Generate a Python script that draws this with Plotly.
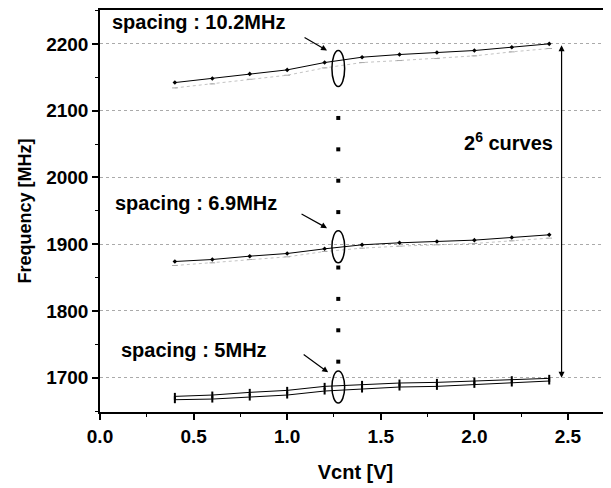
import plotly.graph_objects as go

vcnt = [0.4, 0.6, 0.8, 1.0, 1.2, 1.4, 1.6, 1.8, 2.0, 2.2, 2.4]
f_top = [2142, 2148, 2155, 2161, 2172, 2180, 2184, 2187, 2190, 2195, 2200]
f_top_b = [2134, 2140, 2147, 2153, 2164, 2172, 2175, 2178, 2182, 2188, 2193]
f_mid = [1874, 1877, 1882, 1886, 1893, 1899, 1902, 1904, 1906, 1910, 1914]
f_mid_b = [1868, 1872, 1877, 1881, 1889, 1894, 1897, 1899, 1901, 1905, 1909]
f_low = [1672, 1674, 1678, 1681, 1687, 1690, 1692, 1693, 1695, 1697, 1699]
f_low_b = [1667, 1668, 1671, 1674, 1680, 1683, 1686, 1687, 1690, 1692, 1695]
dots_x = 1.273
dots_y = [2089, 2042, 1995, 1948, 1865, 1818, 1771, 1724]

FONT = "Liberation Sans, Arial, sans-serif"

fig = go.Figure()

def add_main(y):
    fig.add_trace(go.Scatter(x=vcnt, y=y, mode="lines+markers",
                             line=dict(color="black", width=1),
                             marker=dict(symbol="diamond", size=3.5, color="black"),
                             showlegend=False))

def add_faint(y):
    fig.add_trace(go.Scatter(x=vcnt, y=y, mode="lines+markers",
                             line=dict(color="#c4c4c4", width=1, dash="dot"),
                             marker=dict(symbol="line-ew-open", size=4, color="#aaaaaa",
                                         line=dict(width=1, color="#aaaaaa")),
                             showlegend=False))

add_faint(f_top_b)
add_main(f_top)
add_faint(f_mid_b)
add_main(f_mid)
for yy in (f_low_b, f_low):
    fig.add_trace(go.Scatter(x=vcnt, y=yy, mode="lines+markers",
                             line=dict(color="black", width=1),
                             marker=dict(symbol="line-ns-open", size=5, color="black",
                                         line=dict(width=2, color="black")),
                             showlegend=False))
fig.add_trace(go.Scatter(x=[dots_x] * len(dots_y), y=dots_y, mode="markers",
                         marker=dict(symbol="square", size=4, color="black"),
                         showlegend=False))

# ellipses
for yc, hh in [(2163, 27), (1896, 24), (1686, 24)]:
    fig.add_shape(type="circle", xref="x", yref="y",
                  x0=dots_x - 0.034, x1=dots_x + 0.034, y0=yc - hh, y1=yc + hh,
                  line=dict(color="black", width=1.5))

# arrows to ellipses
for xh, yh, ax, ay in [(1.213, 2190, -24, -14), (1.213, 1924, -27, -15), (1.219, 1708, -26, -19)]:
    fig.add_annotation(x=xh, y=yh, ax=ax, ay=ay, text="", showarrow=True,
                       arrowhead=2, arrowsize=1, arrowwidth=1.2, arrowcolor="black")

# double arrow
fig.add_annotation(x=2.466, y=1700, ax=2.466, ay=2200, axref="x", ayref="y",
                   text="", showarrow=True, arrowhead=2, arrowside="end+start",
                   arrowsize=1, arrowwidth=1.2, arrowcolor="black")

txt_font = dict(family=FONT, size=20, color="black", weight="bold")
for xt, yt, t in [(0.055, 2233, "spacing : 10.2MHz"),
                  (0.07, 1961, "spacing : 6.9MHz"),
                  (0.1, 1741, "spacing : 5MHz"),
                  (1.934, 2054, "2<sup>6</sup> curves")]:
    fig.add_annotation(x=xt, y=yt, text=t, showarrow=False, xanchor="left",
                       yanchor="middle", font=txt_font)

fig.update_layout(
    width=603, height=480,
    margin=dict(l=92, r=0, t=0, b=76),
    plot_bgcolor="white", paper_bgcolor="white",
    font=dict(family=FONT, color="black"),
)
fig.update_xaxes(
    range=[0, 2.73], dtick=0.5, tick0=0, tickformat=".1f",
    showline=True, linecolor="black", linewidth=1.5, mirror=True,
    ticks="outside", ticklen=6, tickwidth=1.5, tickcolor="black",
    minor=dict(dtick=0.25, ticks="outside", ticklen=3, tickcolor="black", tickwidth=1),
    showgrid=False, zeroline=False,
    tickfont=dict(family=FONT, size=19, weight="bold"),
    title=dict(text="Vcnt [V]", font=dict(family=FONT, size=20, weight="bold"), standoff=19),
)
fig.update_yaxes(
    range=[1648.6, 2250.7], dtick=100, tick0=1700,
    showline=True, linecolor="black", linewidth=1.5,
    ticks="outside", ticklen=6, tickwidth=1.5, tickcolor="black",
    minor=dict(dtick=50, ticks="outside", ticklen=3, tickcolor="black", tickwidth=1, showgrid=False),
    showgrid=True, gridcolor="#aaaaaa", gridwidth=1, griddash="dot",
    zeroline=False,
    tickfont=dict(family=FONT, size=19, weight="bold"),
    title=dict(text="Frequency [MHz]", font=dict(family=FONT, size=18, weight="bold"), standoff=10),
)

fig.write_html("out.html")
